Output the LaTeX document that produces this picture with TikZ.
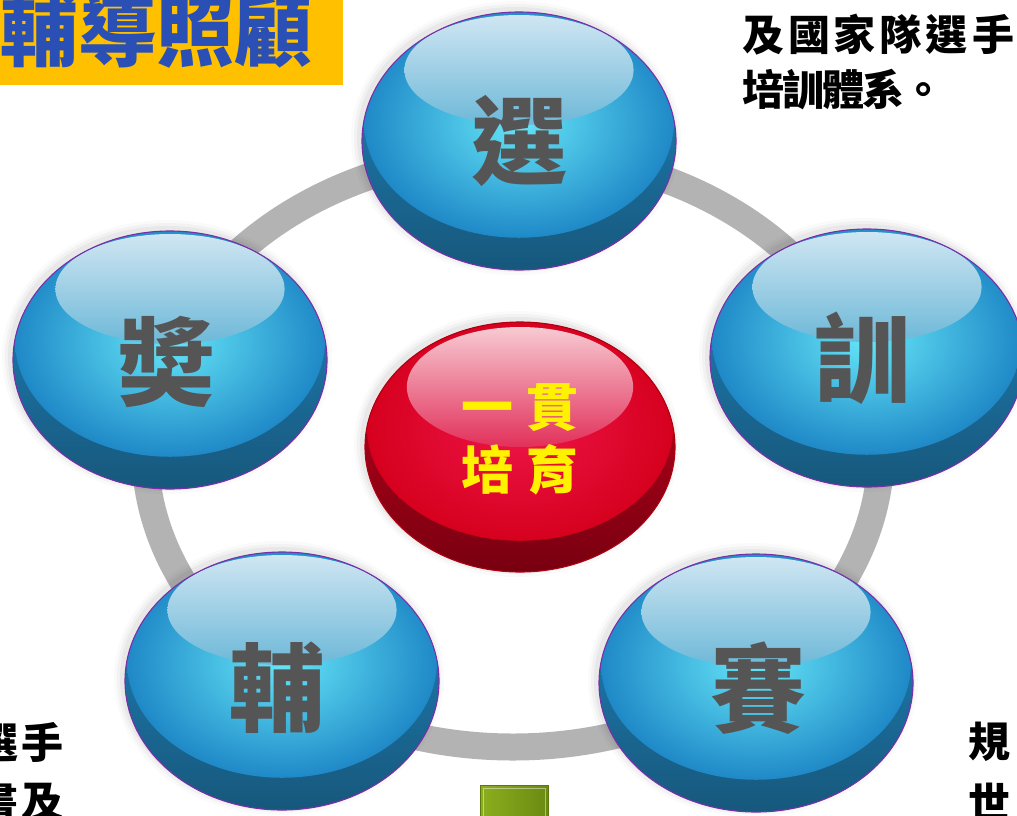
\documentclass[tikz,border=0pt]{standalone}
\usepackage{fontspec}
\newfontfamily\cjk{Noto Sans CJK TC}
\definecolor{ringgray}{HTML}{B3B3B3}
\definecolor{bc}{HTML}{66E6F8}
\definecolor{be}{HTML}{1F89C7}
\definecolor{bdt}{HTML}{1F86C2}
\definecolor{bdb}{HTML}{17587C}
\definecolor{bht}{HTML}{CFE6F2}
\definecolor{bhb}{HTML}{6DB8D8}
\definecolor{bo}{HTML}{7A2FA8}
\definecolor{rc}{HTML}{EE1548}
\definecolor{re}{HTML}{D6001E}
\definecolor{rdt}{HTML}{C8001E}
\definecolor{rdb}{HTML}{780010}
\definecolor{rht}{HTML}{F7CAD2}
\definecolor{rhb}{HTML}{E2305A}
\definecolor{ro}{HTML}{B00010}
\definecolor{chargray}{HTML}{555555}
\definecolor{titleyel}{HTML}{FFC000}
\definecolor{titleblue}{HTML}{2B50B5}
\definecolor{gl}{HTML}{8CAE1E}
\definecolor{gr}{HTML}{6A8A12}
\definecolor{gd}{HTML}{5B780F}
\newcommand\cb[2]{\makebox[#1pt]{#2}}
% #1 cx #2 cy #3 rx #4 ry #5 colour set #6 highlight offset #7 highlight ry
\newcommand\orb[7]{%
\begin{scope}[shift={(#1,#2)}]
  \foreach \d/\o in {8/0.02,5/0.03,2/0.04}{%
    \fill[black,opacity=\o] (-3,-3) ellipse ({#3+\d} and {#4+\d});}
  \shade[top color=#5dt, bottom color=#5db] (0,0) ellipse (#3 and #4);
  \begin{scope}
    \clip (0,0) ellipse (#3 and #4);
    \shade[inner color=#5c, outer color=#5e] (0,{-0.15*#4}) ellipse ({#3-2} and {0.9*#4});
  \end{scope}
  \shade[top color=#5ht, bottom color=#5hb] (0,{-#6}) ellipse ({0.73*#3} and {#7});
  \draw[#5o, line width=1.1] (0,0) ellipse (#3 and #4);
\end{scope}}
\tikzset{
  schar/.style={inner sep=0pt, text=chargray, font=\cjk\bfseries\fontsize{96}{100}\selectfont},
  side/.style={inner sep=0pt, text=black, font=\cjk\bfseries\fontsize{42}{46}\selectfont},
  ctext/.style={inner sep=0pt, text=yellow, font=\cjk\bfseries\fontsize{52}{56}\selectfont},
  ttext/.style={inner sep=0pt, text=titleblue, font=\cjk\bfseries\fontsize{78}{80}\selectfont}
}
\begin{document}
\begin{tikzpicture}[x=1pt,y=-1pt]
\useasboundingbox (0,0) rectangle (1017,815);
\clip (0,0) rectangle (1017,815);
\fill[white] (0,0) rectangle (1017,815);
% title
\fill[titleyel] (0,0) rectangle (343,85);
\node[ttext] (ttl) at (156,31) {輔導照顧};
% side texts
\node[side] (r1) at (878,35) {\cb{46}{及}\cb{46}{國}\cb{46}{家}\cb{46}{隊}\cb{46}{選}\cb{46}{手}};
\node[side] (r2) at (843,90) {\cb{40}{培}\cb{40}{訓}\cb{40}{體}\cb{40}{系}\cb{40}{。}};
\node[side] (bl1) at (20.5,742) {\cb{45}{選}\cb{45}{手}};
\node[side] (bl2) at (20.5,802) {\cb{45}{書}\cb{45}{及}};
\node[side] (br1) at (989,742) {規};
\node[side] (br2) at (989,802) {世};
% ring
\draw[ringgray, line width=27] (513,450) ellipse (368 and 297);
% green box
\draw[gd, line width=1, left color=gl, right color=gr] (480,785) rectangle (548,840);
\draw[white, opacity=0.45, line width=0.8] (483,788) rectangle (545,840);
% spheres
\orb{519}{141}{157}{129}{b}{71}{55}
\node[schar] (xuan) at (519,141) {選};
\orb{867}{358}{157}{129}{b}{71}{55}
\node[schar] (xun) at (862,358) {訓};
\orb{170}{360}{157}{129}{b}{71}{55}
\node[schar] (jiang) at (166,362) {奬};
\orb{282}{681}{157}{129}{b}{71}{55}
\node[schar] (fu) at (277,688) {輔};
\orb{756}{683}{157}{129}{b}{71}{55}
\node[schar] (sai) at (758,688) {賽};
\orb{520}{447}{155}{125}{r}{60}{60}
\node[ctext] (c1) at (520,408) {\cb{66}{一}\cb{66}{貫}};
\node[ctext] (c2) at (520,470) {\cb{66}{培}\cb{66}{育}};
\end{tikzpicture}
\end{document}
